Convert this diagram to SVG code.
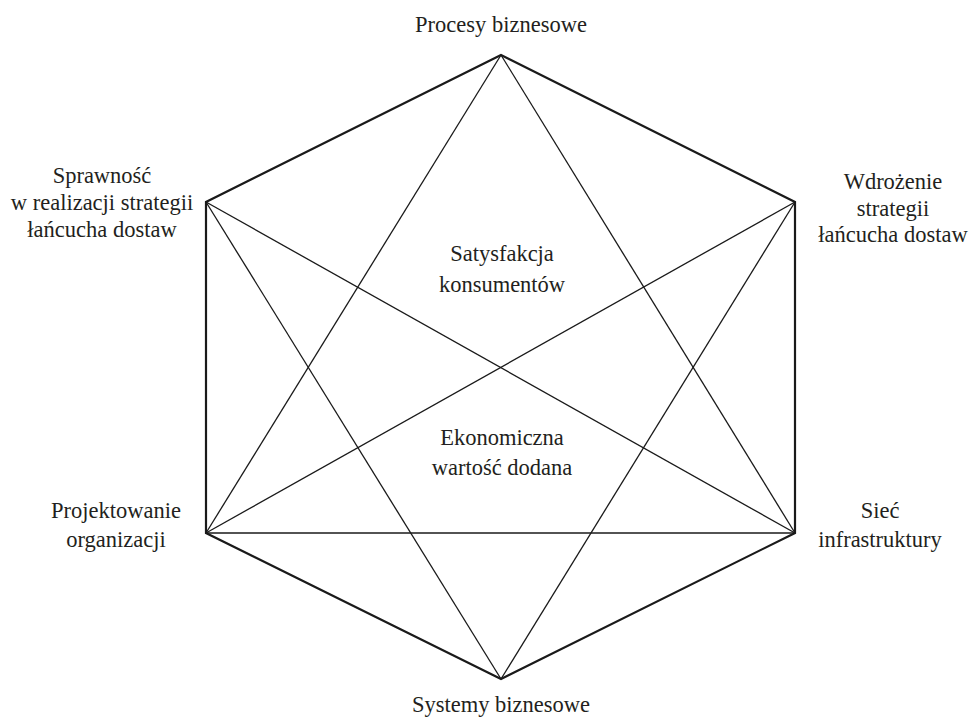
<svg xmlns="http://www.w3.org/2000/svg" width="972" height="718" viewBox="0 0 972 718">
<style>
.lbl{font-family:'Liberation Serif','Times New Roman',serif;font-size:22.5px;fill:#231f20;text-anchor:middle}
.hex{fill:none;stroke:#1a1a1a;stroke-width:2.2;stroke-linejoin:miter}
.ln{stroke:#1a1a1a;stroke-width:1.3;fill:none}
</style>
<rect width="972" height="718" fill="#ffffff"/>
<g id="connectors">
<polygon class="hex" points="501,55 795,202 795,533 501,679 206,533 206,202"/>
<line class="ln" x1="501" y1="55" x2="206" y2="533"/>
<line class="ln" x1="501" y1="55" x2="795" y2="533"/>
<line class="ln" x1="206" y1="533" x2="795" y2="533"/>
<line class="ln" x1="206" y1="202" x2="795" y2="533"/>
<line class="ln" x1="206" y1="202" x2="501" y2="679"/>
<line class="ln" x1="795" y1="202" x2="206" y2="533"/>
<line class="ln" x1="795" y1="202" x2="501" y2="679"/>
</g>
<g id="n-procesy"><text class="lbl" x="501" y="31.5">Procesy biznesowe</text></g>
<g id="n-wdrozenie"><text class="lbl" x="893" y="189">Wdrożenie</text><text class="lbl" x="893" y="215.5">strategii</text><text class="lbl" x="893" y="242">łańcucha dostaw</text></g>
<g id="n-siec"><text class="lbl" x="880" y="518">Sieć</text><text class="lbl" x="880" y="547">infrastruktury</text></g>
<g id="n-systemy"><text class="lbl" x="501" y="712">Systemy biznesowe</text></g>
<g id="n-projektowanie"><text class="lbl" x="116" y="517.5">Projektowanie</text><text class="lbl" x="116" y="546.5">organizacji</text></g>
<g id="n-sprawnosc"><text class="lbl" x="102" y="183">Sprawność</text><text class="lbl" x="102" y="210">w realizacji strategii</text><text class="lbl" x="102" y="237">łańcucha dostaw</text></g>
<g id="n-satysfakcja"><text class="lbl" x="502" y="261">Satysfakcja</text><text class="lbl" x="502" y="292">konsumentów</text></g>
<g id="n-ekonomiczna"><text class="lbl" x="502" y="445">Ekonomiczna</text><text class="lbl" x="502" y="475">wartość dodana</text></g>
</svg>
